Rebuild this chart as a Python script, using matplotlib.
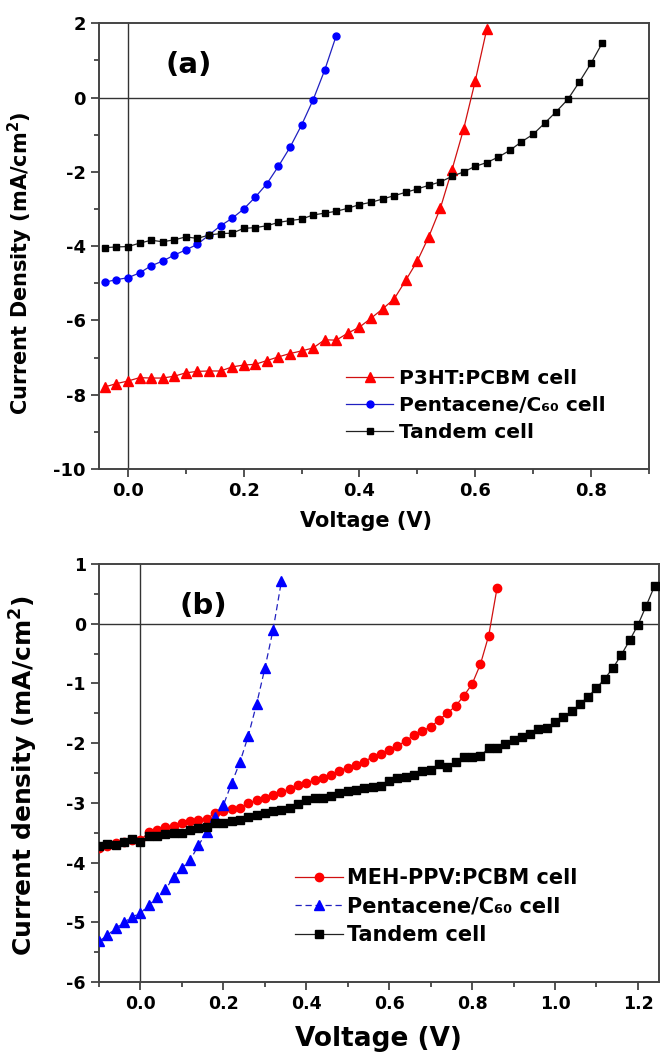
import matplotlib
matplotlib.use("Agg")
import matplotlib.pyplot as plt
from matplotlib.ticker import MultipleLocator

plt.rcParams['font.family'] = ['DejaVu Sans']
plt.rcParams['font.weight'] = 'bold'
plt.rcParams['axes.unicode_minus'] = False

# ---- panel (a) data ----
v_a_p3ht = [-0.04, -0.02, 0.00, 0.02, 0.04, 0.06, 0.08, 0.10, 0.12, 0.14, 0.16, 0.18,
            0.20, 0.22, 0.24, 0.26, 0.28, 0.30, 0.32, 0.34, 0.36, 0.38, 0.40, 0.42,
            0.44, 0.46, 0.48, 0.50, 0.52, 0.54, 0.56, 0.58, 0.60, 0.62]
j_a_p3ht = [-7.79, -7.70, -7.63, -7.54, -7.55, -7.55, -7.50, -7.41, -7.37, -7.36, -7.36, -7.25,
            -7.20, -7.18, -7.08, -6.98, -6.89, -6.82, -6.74, -6.52, -6.53, -6.34, -6.18, -5.94,
            -5.69, -5.42, -4.92, -4.40, -3.74, -2.97, -1.94, -0.85, 0.44, 1.84]

v_a_pent = [-0.04, -0.02, 0.00, 0.02, 0.04, 0.06, 0.08, 0.10, 0.12, 0.14, 0.16, 0.18,
            0.20, 0.22, 0.24, 0.26, 0.28, 0.30, 0.32, 0.34, 0.36]
j_a_pent = [-4.97, -4.90, -4.85, -4.72, -4.53, -4.40, -4.24, -4.10, -3.95, -3.70, -3.45, -3.25,
            -3.00, -2.68, -2.32, -1.85, -1.34, -0.74, -0.06, 0.74, 1.67]

v_a_tand = [-0.04, -0.02, 0.00, 0.02, 0.04, 0.06, 0.08, 0.10, 0.12, 0.14, 0.16, 0.18,
            0.20, 0.22, 0.24, 0.26, 0.28, 0.30, 0.32, 0.34, 0.36, 0.38, 0.40, 0.42,
            0.44, 0.46, 0.48, 0.50, 0.52, 0.54, 0.56, 0.58, 0.60, 0.62, 0.64, 0.66,
            0.68, 0.70, 0.72, 0.74, 0.76, 0.78, 0.80, 0.82]
j_a_tand = [-4.04, -4.02, -4.01, -3.92, -3.84, -3.88, -3.83, -3.75, -3.79, -3.70, -3.66, -3.65,
            -3.52, -3.50, -3.45, -3.36, -3.31, -3.27, -3.16, -3.11, -3.06, -2.98, -2.88, -2.82,
            -2.73, -2.64, -2.55, -2.46, -2.36, -2.27, -2.12, -2.00, -1.85, -1.75, -1.60, -1.42,
            -1.19, -0.99, -0.69, -0.38, -0.05, 0.42, 0.92, 1.48]

# ---- panel (b) data ----
v_b_meh = [-0.10, -0.08, -0.06, -0.04, -0.02, 0.00, 0.02, 0.04, 0.06, 0.08, 0.10, 0.12,
           0.14, 0.16, 0.18, 0.20, 0.22, 0.24, 0.26, 0.28, 0.30, 0.32, 0.34, 0.36,
           0.38, 0.40, 0.42, 0.44, 0.46, 0.48, 0.50, 0.52, 0.54, 0.56, 0.58, 0.60,
           0.62, 0.64, 0.66, 0.68, 0.70, 0.72, 0.74, 0.76, 0.78, 0.80, 0.82, 0.84, 0.86]
j_b_meh = [-3.76, -3.72, -3.68, -3.66, -3.62, -3.63, -3.49, -3.46, -3.41, -3.38, -3.34, -3.31,
           -3.28, -3.27, -3.17, -3.14, -3.11, -3.08, -3.01, -2.96, -2.92, -2.87, -2.82, -2.77,
           -2.71, -2.67, -2.62, -2.58, -2.53, -2.46, -2.41, -2.37, -2.31, -2.23, -2.18, -2.12,
           -2.05, -1.96, -1.87, -1.79, -1.73, -1.61, -1.50, -1.38, -1.21, -1.01, -0.68, -0.20, 0.59]

v_b_pent = [-0.10, -0.08, -0.06, -0.04, -0.02, 0.00, 0.02, 0.04, 0.06, 0.08, 0.10, 0.12,
            0.14, 0.16, 0.18, 0.20, 0.22, 0.24, 0.26, 0.28, 0.30, 0.32, 0.34]
j_b_pent = [-5.32, -5.22, -5.10, -5.00, -4.91, -4.85, -4.71, -4.58, -4.45, -4.25, -4.09, -3.96,
            -3.71, -3.49, -3.24, -3.04, -2.67, -2.32, -1.88, -1.35, -0.75, -0.10, 0.71]

v_b_tand = [-0.10, -0.08, -0.06, -0.04, -0.02, 0.00, 0.02, 0.04, 0.06, 0.08, 0.10, 0.12,
            0.14, 0.16, 0.18, 0.20, 0.22, 0.24, 0.26, 0.28, 0.30, 0.32, 0.34, 0.36,
            0.38, 0.40, 0.42, 0.44, 0.46, 0.48, 0.50, 0.52, 0.54, 0.56, 0.58, 0.60,
            0.62, 0.64, 0.66, 0.68, 0.70, 0.72, 0.74, 0.76, 0.78, 0.80, 0.82, 0.84,
            0.86, 0.88, 0.90, 0.92, 0.94, 0.96, 0.98, 1.00, 1.02, 1.04, 1.06, 1.08,
            1.10, 1.12, 1.14, 1.16, 1.18, 1.20, 1.22, 1.24]
j_b_tand = [-3.72, -3.69, -3.71, -3.66, -3.61, -3.65, -3.56, -3.55, -3.52, -3.50, -3.50, -3.45,
            -3.43, -3.41, -3.34, -3.34, -3.31, -3.28, -3.23, -3.20, -3.17, -3.13, -3.12, -3.08,
            -3.02, -2.96, -2.92, -2.92, -2.88, -2.84, -2.81, -2.78, -2.75, -2.73, -2.72, -2.64,
            -2.58, -2.57, -2.54, -2.46, -2.45, -2.35, -2.40, -2.31, -2.24, -2.24, -2.21, -2.09,
            -2.08, -2.01, -1.95, -1.90, -1.84, -1.77, -1.74, -1.65, -1.57, -1.47, -1.35, -1.22,
            -1.08, -0.92, -0.74, -0.52, -0.28, -0.02, 0.30, 0.63]

fig = plt.figure(figsize=(6.6, 10.6), dpi=100)
ax1 = fig.add_axes([0.15, 0.5575, 0.833, 0.4205])
ax2 = fig.add_axes([0.15, 0.0736, 0.848, 0.3944])

spine_col = '#444444'


def style_axes(ax, tsize):
    for s in ax.spines.values():
        s.set_color(spine_col)
        s.set_linewidth(1.4)
    ax.tick_params(which='both', direction='out', top=False, right=False,
                   colors=spine_col, labelcolor='black', labelsize=tsize, width=1.3)
    ax.tick_params(which='major', length=6)
    ax.tick_params(which='minor', length=3.5)
    for lab in ax.get_xticklabels() + ax.get_yticklabels():
        lab.set_fontweight('bold')
    ax.axhline(0, color='#333333', lw=1.0, zorder=1)
    ax.axvline(0, color='#333333', lw=1.0, zorder=1)


# ---- panel (a) ----
ax1.plot(v_a_p3ht, j_a_p3ht, color='#d01010', lw=0.9, marker='^', ms=6.5,
         mfc='red', mec='red', label='P3HT:PCBM cell', zorder=3)
ax1.plot(v_a_pent, j_a_pent, color='#2020c0', lw=0.9, marker='o', ms=5,
         mfc='blue', mec='blue', label='Pentacene/C₆₀ cell', zorder=3)
ax1.plot(v_a_tand, j_a_tand, color='#222222', lw=0.9, marker='s', ms=5,
         mfc='black', mec='black', label='Tandem cell', zorder=3)
ax1.set_xlim(-0.05, 0.9)
ax1.set_ylim(-10, 2)
ax1.xaxis.set_major_locator(MultipleLocator(0.2))
ax1.xaxis.set_minor_locator(MultipleLocator(0.1))
ax1.yaxis.set_major_locator(MultipleLocator(2))
ax1.yaxis.set_minor_locator(MultipleLocator(1))
ax1.xaxis.set_major_formatter(plt.FormatStrFormatter('%.1f'))
style_axes(ax1, 13)
ax1.set_xlabel('Voltage (V)', fontsize=15, fontweight='bold')
ax1.set_ylabel('Current Density (mA/cm$^\\mathbf{2}$)', fontsize=15, fontweight='bold')
ax1.xaxis.set_label_coords(0.485, -0.093)
ax1.yaxis.set_label_coords(-0.116, 0.462)
ax1.text(0.164, 0.906, '(a)', transform=ax1.transAxes, fontsize=21,
         fontweight='bold', ha='center', va='center')
ax1.legend(loc='center left', bbox_to_anchor=(0.45, 0.143), frameon=False,
           prop={'weight': 'bold', 'size': 14.5}, handlelength=2.3,
           handletextpad=0.3, labelspacing=0.4, borderaxespad=0, borderpad=0)

# ---- panel (b) ----
ax2.plot(v_b_meh, j_b_meh, color='#d01010', lw=0.9, marker='o', ms=6,
         mfc='red', mec='red', label='MEH-PPV:PCBM cell', zorder=3)
ax2.plot(v_b_pent, j_b_pent, color='#2020c0', lw=0.9, ls=(0, (5, 3)), marker='^', ms=7,
         mfc='blue', mec='blue', label='Pentacene/C₆₀ cell', zorder=3)
ax2.plot(v_b_tand, j_b_tand, color='#222222', lw=0.9, marker='s', ms=5.5,
         mfc='black', mec='black', label='Tandem cell', zorder=3)
ax2.set_xlim(-0.1, 1.25)
ax2.set_ylim(-6, 1)
ax2.xaxis.set_major_locator(MultipleLocator(0.2))
ax2.xaxis.set_minor_locator(MultipleLocator(0.1))
ax2.yaxis.set_major_locator(MultipleLocator(1))
ax2.yaxis.set_minor_locator(MultipleLocator(0.5))
ax2.xaxis.set_major_formatter(plt.FormatStrFormatter('%.1f'))
style_axes(ax2, 12.5)
ax2.set_xlabel('Voltage (V)', fontsize=19, fontweight='bold')
ax2.set_ylabel('Current density (mA/cm$^\\mathbf{2}$)', fontsize=18, fontweight='bold')
ax2.xaxis.set_label_coords(0.5, -0.105)
ax2.yaxis.set_label_coords(-0.105, 0.493)
ax2.text(0.186, 0.9, '(b)', transform=ax2.transAxes, fontsize=21,
         fontweight='bold', ha='center', va='center')
ax2.legend(loc='center left', bbox_to_anchor=(0.35, 0.18), frameon=False,
           prop={'weight': 'bold', 'size': 15}, handlelength=2.3,
           handletextpad=0.2, labelspacing=0.4, borderaxespad=0, borderpad=0)

fig.savefig('out.png', dpi=100)
